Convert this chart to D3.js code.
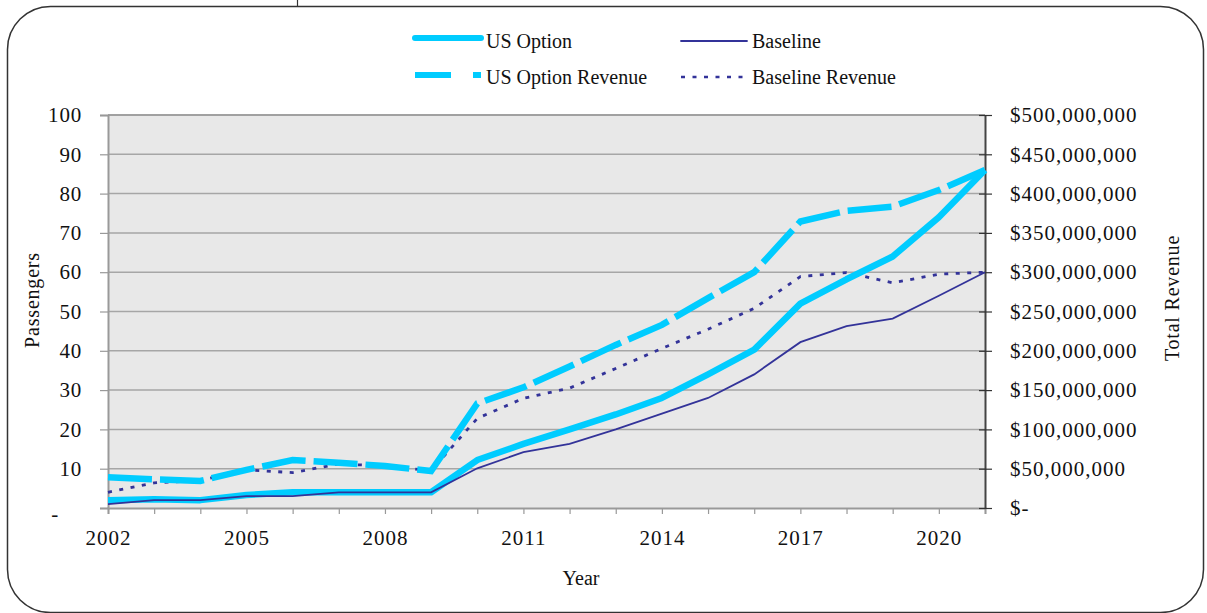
<!DOCTYPE html>
<html>
<head>
<meta charset="utf-8">
<script src="https://cdn.jsdelivr.net/npm/d3@7"></script>
<style>
  html, body { margin: 0; padding: 0; background: #fff; }
  svg text { font-family: "Liberation Serif", "Times New Roman", serif; fill: #111; }
</style>
</head>
<body>
<svg id="chart" width="1207" height="613"></svg>
<script>
// Passenger counts and revenue by year
const years = d3.range(2002, 2022);
const usOption = [2, 2.2, 2, 3.3, 4, 4, 4, 4, 12.2, 16.3, 20, 23.8, 28, 34, 40.3, 52, 58.2, 64, 74, 86];
const baseline = [1, 2, 2, 3, 3, 4, 4, 4, 10.1, 14.2, 16.3, 20, 24, 28, 34, 42.2, 46.3, 48.2, 54, 60];
// Revenue in millions of dollars
const usOptionRevenueM = [39, 36.5, 34.5, 48.5, 61, 57.5, 53.5, 47, 133, 153.5, 180, 207.5, 233, 267, 300, 364.5, 378, 383.5, 404.5, 430];
const baselineRevenueM = [20, 32, 35, 48.5, 45, 56, 53.5, 47.5, 114, 139.5, 152.5, 177.5, 203, 227.5, 254, 294.5, 299.5, 286.5, 297.5, 300];
const passengerTicks = [0, 10, 20, 30, 40, 50, 60, 70, 80, 90, 100];
const revenueTicks = [0, 5e7, 1e8, 1.5e8, 2e8, 2.5e8, 3e8, 3.5e8, 4e8, 4.5e8, 5e8];
const yearLabels = [2002, 2005, 2008, 2011, 2014, 2017, 2020];

const cyan = "#00CCFF";
const navy = "#333399";

const svg = d3.select("#chart");
const L = 108, R = 985, T = 115, B = 508;

const x = d3.scaleLinear().domain([2002, 2021]).range([L, R]);
const y = d3.scaleLinear().domain([0, 100]).range([B, T]);
const yR = d3.scaleLinear().domain([0, 5e8]).range([B, T]);

// Outer rounded frame
svg.append("rect")
  .attr("x", 7.5).attr("y", 6.5).attr("width", 1196).attr("height", 606)
  .attr("rx", 43).attr("ry", 43)
  .attr("fill", "none").attr("stroke", "#333").attr("stroke-width", 1.5);
svg.append("line").attr("x1", 297.5).attr("x2", 297.5).attr("y1", 0).attr("y2", 6)
  .attr("stroke", "#333").attr("stroke-width", 1.2);

// Plot background
svg.append("rect")
  .attr("x", L).attr("y", T).attr("width", R - L).attr("height", B - T)
  .attr("fill", "#E8E8E8");

// Horizontal gridlines
svg.append("g").selectAll("line").data(passengerTicks.slice(1)).join("line")
  .attr("x1", L).attr("x2", R)
  .attr("y1", d => y(d)).attr("y2", d => y(d))
  .attr("stroke", "#A6A6A6").attr("stroke-width", 1.5);

// Left axis
const leftAxis = svg.append("g").attr("transform", `translate(${L},0)`)
  .call(d3.axisLeft(y).tickValues(passengerTicks).tickSize(8).tickPadding(18)
    .tickFormat(d => d === 0 ? "-" : d3.format("d")(d)));
leftAxis.select(".domain").attr("stroke", "#999").attr("stroke-width", 2);
leftAxis.selectAll(".tick line").attr("stroke", "#999").attr("stroke-width", 1.2);
leftAxis.selectAll(".tick text")
  .style("font-size", "21px").attr("letter-spacing", "0.8px")
  .attr("font-family", null).attr("fill", "#111");
leftAxis.selectAll(".tick").filter(d => d === 0).select("text")
  .attr("dx", "-23").attr("dy", "0.6em");

// Bottom axis
const bottomAxis = svg.append("g").attr("transform", `translate(0,${B})`)
  .call(d3.axisBottom(x).tickValues(years).tickSize(6).tickPadding(16)
    .tickFormat(d => yearLabels.includes(d) ? String(d) : ""));
bottomAxis.select(".domain").attr("stroke", "#999").attr("stroke-width", 2);
bottomAxis.selectAll(".tick line").attr("stroke", "#999").attr("stroke-width", 1.2);
bottomAxis.selectAll(".tick text")
  .style("font-size", "21px").attr("letter-spacing", "1px")
  .attr("font-family", null).attr("fill", "#111");

// Top border of plot
svg.append("line").attr("x1", L).attr("x2", R).attr("y1", T).attr("y2", T)
  .attr("stroke", "#999").attr("stroke-width", 1.5);

// Right axis (revenue)
const rightAxis = svg.append("g").attr("transform", `translate(${R},0)`)
  .call(d3.axisRight(yR).tickValues(revenueTicks).tickSizeInner(7).tickSizeOuter(0).tickPadding(18)
    .tickFormat(d => d === 0 ? "$-" : "$" + d3.format(",")(d)));
rightAxis.select(".domain").attr("stroke", "#444").attr("stroke-width", 2);
rightAxis.selectAll(".tick line").attr("x1", -6).attr("stroke", "#333").attr("stroke-width", 1.2);
rightAxis.selectAll(".tick text")
  .style("font-size", "21px").attr("letter-spacing", "1px")
  .attr("font-family", null).attr("fill", "#111");

// Series lines
const line = d3.line().x((d, i) => x(years[i])).y(d => y(d));
const lineR = d3.line().x((d, i) => x(years[i])).y(d => yR(d * 1e6));

const plot = svg.append("g");
plot.append("path").datum(baselineRevenueM).attr("d", lineR)
  .attr("fill", "none").attr("stroke", navy).attr("stroke-width", 2.8)
  .attr("stroke-dasharray", "4,7.5");
plot.append("path").datum(usOptionRevenueM).attr("d", lineR)
  .attr("fill", "none").attr("stroke", cyan).attr("stroke-width", 6.5)
  .attr("stroke-dasharray", "44,8");
plot.append("path").datum(usOption).attr("d", line)
  .attr("fill", "none").attr("stroke", cyan).attr("stroke-width", 6.5)
  .attr("stroke-linejoin", "round");
plot.append("path").datum(baseline).attr("d", line)
  .attr("fill", "none").attr("stroke", navy).attr("stroke-width", 1.8);

// Axis titles
svg.append("text").attr("x", 581).attr("y", 585).attr("text-anchor", "middle")
  .style("font-size", "20px").text("Year");
svg.append("text").attr("transform", "translate(39,300) rotate(-90)").attr("text-anchor", "middle")
  .style("font-size", "20px").attr("letter-spacing", "0.8px").text("Passengers");
svg.append("text").attr("transform", "translate(1179,298) rotate(-90)").attr("text-anchor", "middle")
  .style("font-size", "20px").attr("letter-spacing", "0.8px").text("Total  Revenue");

// Legend
const legend = [
  { name: "US Option", x: 415, y: 38, color: cyan, width: 6, dash: null },
  { name: "Baseline", x: 681, y: 41, color: navy, width: 1.8, dash: null },
  { name: "US Option Revenue", x: 415, y: 75, color: cyan, width: 6, dash: "36,22" },
  { name: "Baseline Revenue", x: 681, y: 77, color: navy, width: 2.5, dash: "4,7.5" }
];
const lg = svg.append("g").selectAll("g").data(legend).join("g");
lg.append("line")
  .attr("x1", d => d.x).attr("x2", d => d.x + 66)
  .attr("y1", d => d.y).attr("y2", d => d.y)
  .attr("stroke", d => d.color).attr("stroke-width", d => d.width)
  .attr("stroke-linecap", d => d.dash ? "butt" : "round")
  .attr("stroke-dasharray", d => d.dash);
lg.append("text")
  .attr("x", d => d.x + 71).attr("y", d => d.y < 60 ? 48 : 84)
  .style("font-size", "20px").text(d => d.name);
</script>
</body>
</html>
